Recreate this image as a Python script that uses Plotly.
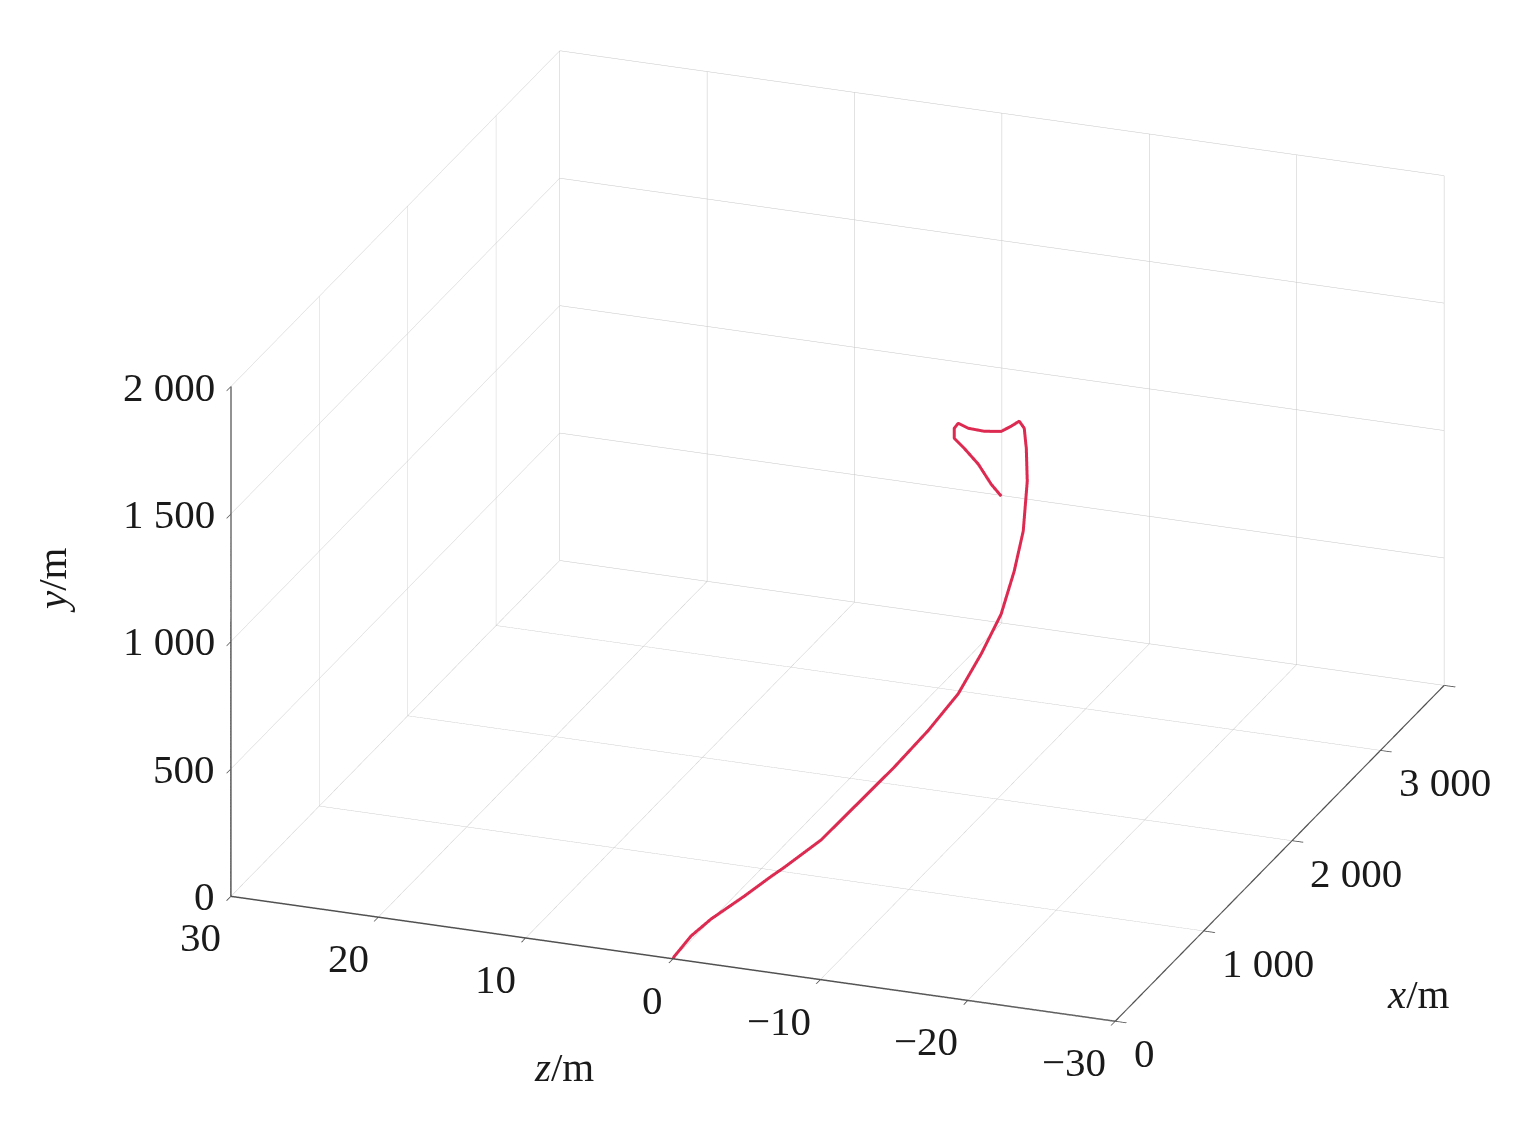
import plotly.graph_objects as go

# Trajectory (x downrange, y height, z lateral), metres
x_m = [0, 11, 120, 263, 470, 676, 756, 1008, 1294, 1501, 1719, 1891, 2018, 2144, 2225, 2277, 2289,
       2270, 2265, 2260, 2255, 2250, 2245, 2240, 2235, 2230, 2225, 2220, 2215, 2210, 2205]
y_m = [0, 4, 51, 71, 95, 105, 115, 142, 205, 269, 344, 435, 553, 670, 813, 954, 1147,
       1283, 1363, 1390, 1368, 1344, 1337, 1342, 1358, 1338, 1301, 1269, 1217, 1147, 1108]
z_m = [0, 0, -0.5, -1.0, -2.0, -2.6, -3.0, -4.0, -5.0, -6.0, -7.0, -8.0, -8.8, -9.4, -9.8, -10.1, -10.3,
       -10.35, -10.24, -9.93, -9.42, -8.77, -7.65, -6.59, -5.94, -5.70, -5.73, -6.44, -7.42, -8.33, -9.04]

# Axis ticks
z_ticks = [30, 20, 10, 0, -10, -20, -30]
z_labels = ["30", "20", "10", "0", "\u221210", "\u221220", "\u221230"]
x_ticks = [0, 1000, 2000, 3000]
x_labels = ["0", "1 000", "2 000", "3 000"]
y_ticks = [0, 500, 1000, 1500, 2000]
y_labels = ["0", "500", "1 000", "1 500", "2 000"]
z_lim = [-30, 30]
x_lim = [0, 3720]
y_lim = [0, 2000]

# z axis runs reversed (30 on the left), so plot -z and relabel
zp = [-v for v in z_m]
zp_ticks = [-v for v in z_ticks]

fig = go.Figure(go.Scatter3d(
    x=zp, y=x_m, z=y_m, mode="lines",
    line=dict(color="#dc2a50", width=6),
    showlegend=False, hoverinfo="skip"))

FONT = "Liberation Serif"
lab = dict(family=FONT, size=41, color="#1a1a1a")
common = dict(showbackground=False, gridcolor="#c6c6c6", gridwidth=1,
              zeroline=False, showline=True, linecolor="#505050", linewidth=3,
              ticks="inside", ticklen=12, tickcolor="#505050", tickwidth=2,
              showticklabels=False, title=dict(text=""), showspikes=False)

ann = []
# z tick labels along the front bottom edge (x=0, y=0)
for v, t in zip(zp_ticks, z_labels):
    ann.append(dict(x=v, y=x_lim[0], z=y_lim[0], text=t, showarrow=False,
                    xanchor="right", yanchor="middle", xshift=-8, yshift=-41, font=lab))
# x tick labels along the right bottom edge (z=-30, y=0)
for v, t in zip(x_ticks, x_labels):
    ann.append(dict(x=-z_lim[0], y=v, z=y_lim[0], text=t, showarrow=False,
                    xanchor="left", yanchor="middle", xshift=16, yshift=-32, font=lab))
# y tick labels along the left vertical edge (z=30, x=0)
for v, t in zip(y_ticks, y_labels):
    ann.append(dict(x=-z_lim[1], y=x_lim[0], z=v, text=t, showarrow=False,
                    xanchor="right", yanchor="middle", xshift=-14, yshift=0, font=lab))
# axis titles
ann.append(dict(x=-7.25, y=x_lim[0], z=y_lim[0], text="<i>z</i>/m", showarrow=False,
                xanchor="center", yanchor="middle", xshift=-3, yshift=-123, font=lab))
ann.append(dict(x=-z_lim[0], y=1500, z=y_lim[0], text="<i>x</i>/m", showarrow=False,
                xanchor="center", yanchor="middle", xshift=170, yshift=-108, font=lab))
ann.append(dict(x=-z_lim[1], y=x_lim[0], z=1250, text="<i>y</i>/m", showarrow=False,
                textangle=-90, xanchor="center", yanchor="middle", xshift=-180, yshift=-2, font=lab))

s = 1.787
fig.update_layout(
    width=1520, height=1133,
    margin=dict(l=0, r=0, t=0, b=0),
    paper_bgcolor="white",
    scene=dict(
        domain=dict(x=[0.097, 0.995], y=[0.068, 1.0]),
        xaxis=dict(range=z_lim, tickvals=zp_ticks, **common),
        yaxis=dict(range=x_lim, tickvals=x_ticks + [x_lim[1]], **common),
        zaxis=dict(range=y_lim, tickvals=y_ticks, **common),
        aspectmode="manual",
        aspectratio=dict(x=1 * s, y=1 * s, z=0.584 * s),
        camera=dict(
            projection=dict(type="orthographic"),
            up=dict(x=0, y=0, z=1),
            center=dict(x=0, y=0, z=0),
            eye=dict(x=0.3225, y=-0.8672, z=0.3798),
        ),
        annotations=ann,
    ),
)

fig.write_html("out.html", config=dict(displayModeBar=False))
